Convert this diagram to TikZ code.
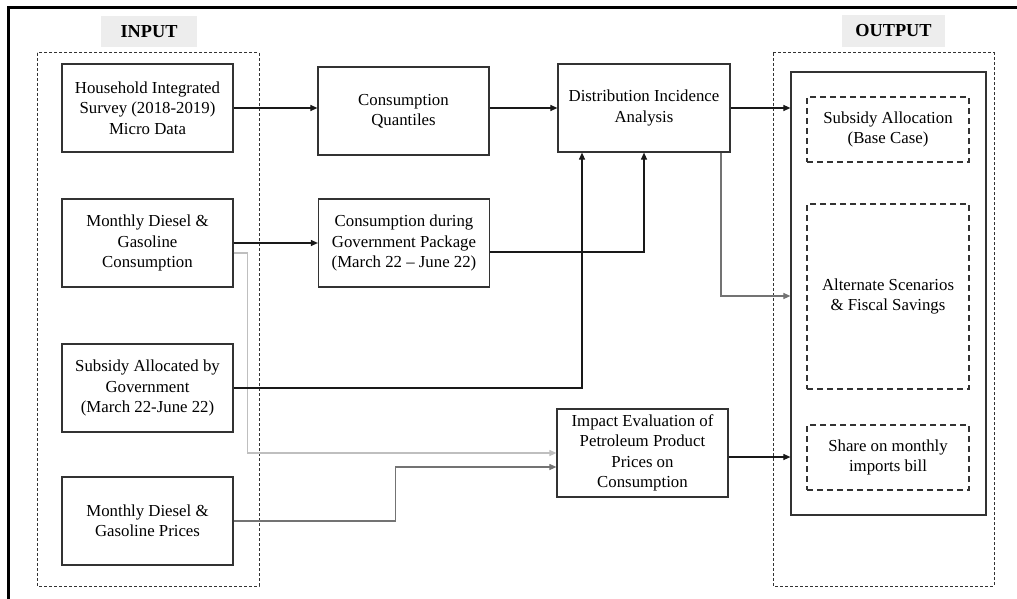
\documentclass[tikz,border=0pt]{standalone}
\usepackage{fontspec}
\setmainfont{Liberation Serif}
\usetikzlibrary{arrows.meta}
\begin{document}
\begin{tikzpicture}[x=1pt,y=-1pt,
  every node/.style={font=\fontsize{16.8}{20.3}\selectfont, align=center, inner sep=0pt},
  box/.style={draw=black!80, line width=1.2pt, minimum width=171pt, minimum height=88pt},
  obox/.style={draw=black!80, line width=1.2pt, dash pattern=on 6pt off 4pt, minimum width=162pt},
  grp/.style={draw=black!80, line width=1pt, dash pattern=on 3pt off 2pt},
  lbl/.style={fill=black!7, font=\fontsize{18.3}{20}\selectfont\bfseries},
  conn/.style={line width=1.1pt, draw=black!90},
  arr/.style={conn, -{Triangle[length=7pt,width=6pt]}},
  garr/.style={line width=1.1pt, draw=black!25, -{Triangle[length=7pt,width=6pt]}, color=black!25},
  marr/.style={line width=1.1pt, draw=black!55, -{Triangle[length=7pt,width=6pt]}}
]
\useasboundingbox (0,0) rectangle (1017,599);
% outer frame
\draw[line width=3.5pt] (8.5,599) -- (8.5,7.5) -- (1017,7.5);
% group boxes
\draw[grp] (37,53) rectangle (259,586);
\draw[grp] (773,53) rectangle (994,586);
\node[lbl, minimum width=96pt, minimum height=31pt] (inlbl) at (149,31.5) {INPUT};
\node[lbl, minimum width=103pt, minimum height=32pt] (outlbl) at (893.5,31) {OUTPUT};
% input boxes
\node[box] (b1) at (147.5,108) {Household Integrated\\Survey (2018-2019)\\Micro Data};
\node[box] (b2) at (147.5,243) {Monthly Diesel \&\\Gasoline\\Consumption};
\node[box] (b3) at (147.5,388) {Subsidy Allocated by\\Government\\(March 22-June 22)};
\node[box] (b4) at (147.5,521) {Monthly Diesel \&\\Gasoline Prices};
% middle
\node[box] (cq) at (403.5,111) {Consumption\\Quantiles};
\node[box] (cd) at (404,243) {Consumption during\\Government Package\\(March 22 -- June 22)};
\node[box, minimum width=172pt] (dia) at (644,108) {Distribution Incidence\\Analysis};
\node[box] (imp) at (642.5,453) {Impact Evaluation of\\Petroleum Product\\Prices on\\Consumption};
% output
\node[draw=black!80, line width=1.2pt, minimum width=195pt, minimum height=443pt] (out) at (888.5,293.5) {};
\node[obox, minimum height=65pt] (o1) at (888,129.5) {Subsidy Allocation\\(Base Case)};
\node[obox, minimum height=185pt] (o2) at (888,296.5) {Alternate Scenarios\\\& Fiscal Savings};
\node[obox, minimum height=65pt] (o3) at (888,457.5) {Share on monthly\\imports bill};
% connectors
\draw[arr] (b1.east) -- (b1.east -| cq.west);
\draw[arr] (dia.west -| cq.east) -- (dia.west);
\draw[arr] (dia.east) -- (dia.east -| out.west);
\draw[arr] (b2.east) -- (cd.west);
\draw[garr] ([yshift=-10pt]b2.east) -- ++(14,0) |- (imp.west);
\draw[marr] (b4.east) -- ++(162,0) |- ([yshift=-14pt]imp.west);
\draw[arr] (b3.east) -| ([xshift=-62pt]dia.south);
\draw[arr] ([yshift=-9pt]cd.east) -| (dia.south);
\draw[marr] ([xshift=77pt]dia.south) |- ([yshift=-2.5pt]out.west);
\draw[arr] ([yshift=-4pt]imp.east) -- ([yshift=-4pt]imp.east -| out.west);
\end{tikzpicture}
\end{document}
